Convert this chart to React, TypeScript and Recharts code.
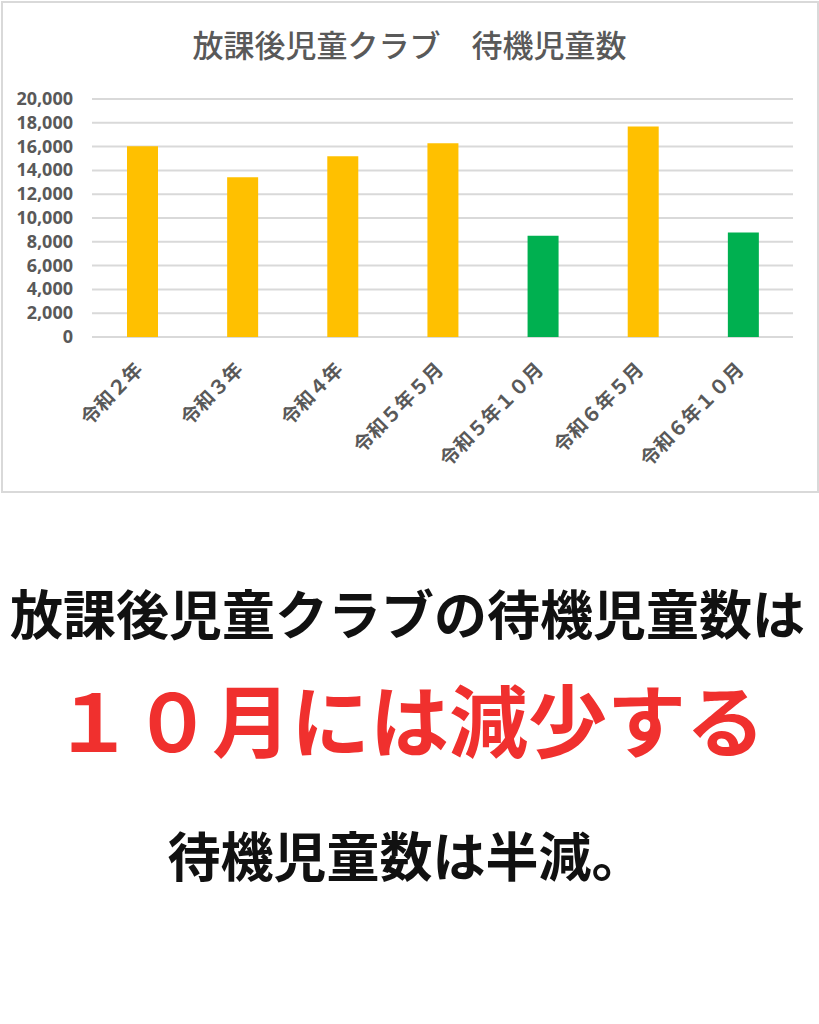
import React from "react";
import { BarChart, Bar, XAxis, YAxis, CartesianGrid, Cell } from "recharts";

const periods = [
  "令和２年",
  "令和３年",
  "令和４年",
  "令和５年５月",
  "令和５年１０月",
  "令和６年５月",
  "令和６年１０月",
];
const waitingChildren = [16019, 13416, 15180, 16276, 8513, 17686, 8790];
const yTicks = [0, 2000, 4000, 6000, 8000, 10000, 12000, 14000, 16000, 18000, 20000];

const data = periods.map((period, i) => ({
  period,
  count: waitingChildren[i],
}));

const JP = "'Noto Sans CJK JP', 'Noto Sans', sans-serif";
const GRAY = "#595959";

function XTick(props: any) {
  const { x, y, payload } = props;
  return (
    <g transform={`translate(${x + 2},${y + 34})`}>
      <text
        x={0}
        y={0}
        textAnchor="end"
        transform="rotate(-45)"
        fill={GRAY}
        fontSize={19.5}
        fontWeight={700}
        fontFamily={JP}
      >
        {payload.value}
      </text>
    </g>
  );
}

function YTick(props: any) {
  const { x, y, payload } = props;
  return (
    <text
      x={x}
      y={y}
      dy={6}
      textAnchor="end"
      fill={GRAY}
      fontSize={18}
      fontWeight={700}
      fontFamily="'Open Sans', sans-serif"
    >
      {payload.value.toLocaleString("en-US")}
    </text>
  );
}

export default function App() {
  return (
    <div
      style={{
        position: "absolute",
        top: 0,
        left: 0,
        width: 819,
        height: 1024,
        background: "#fff",
        fontFamily: JP,
      }}
    >
      <div
        style={{
          position: "absolute",
          left: 1,
          top: 1,
          width: 814,
          height: 488,
          border: "2px solid #d9d9d9",
        }}
      />
      <div
        style={{
          position: "absolute",
          left: 0,
          top: 24,
          width: 819,
          textAlign: "center",
          fontSize: 31,
          lineHeight: "40px",
          fontWeight: 500,
          color: GRAY,
        }}
      >
        放課後児童クラブ　待機児童数
      </div>
      <div style={{ position: "absolute", left: 0, top: 0 }}>
        <BarChart
          width={819}
          height={492}
          data={data}
          margin={{ top: 99, right: 26, left: 12, bottom: 0 }}
        >
          <CartesianGrid vertical={false} stroke="#d9d9d9" strokeWidth={2} />
          <XAxis
            dataKey="period"
            axisLine={false}
            tickLine={false}
            tickSize={0}
            tickMargin={0}
            height={155}
            interval={0}
            tick={<XTick />}
          />
          <YAxis
            width={80}
            domain={[0, 20000]}
            ticks={yTicks}
            axisLine={false}
            tickLine={false}
            tickSize={0}
            tickMargin={19}
            tick={<YTick />}
          />
          <Bar dataKey="count" barSize={31} isAnimationActive={false}>
            {data.map((d) => (
              <Cell
                key={d.period}
                fill={d.period.endsWith("１０月") ? "#00B050" : "#FFC000"}
              />
            ))}
          </Bar>
        </BarChart>
      </div>
      <div
        style={{
          position: "absolute",
          left: 0,
          top: 580,
          width: 815,
          textAlign: "center",
          fontSize: 53,
          lineHeight: "64px",
          fontWeight: 700,
          color: "#111",
        }}
      >
        放課後児童クラブの待機児童数は
      </div>
      <div
        style={{
          position: "absolute",
          left: 0,
          top: 672,
          width: 819,
          textAlign: "center",
          fontSize: 79,
          lineHeight: "92px",
          fontWeight: 700,
          color: "#F0302E",
        }}
      >
        １０月には減少する
      </div>
      <div
        style={{
          position: "absolute",
          left: 0,
          top: 822,
          width: 812,
          textAlign: "center",
          fontSize: 53,
          lineHeight: "64px",
          fontWeight: 700,
          color: "#111",
        }}
      >
        待機児童数は半減。
      </div>
    </div>
  );
}
